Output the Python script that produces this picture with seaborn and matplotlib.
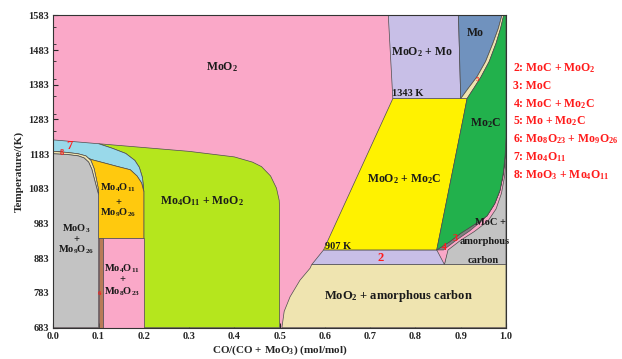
import matplotlib
matplotlib.use("Agg")
import matplotlib.pyplot as plt
from matplotlib.ticker import MultipleLocator
import seaborn as sns

# ---- phase-field boundaries: (x = CO/(CO+MoO3), T in K) ----
# MoO2 upper boundary across the Mo4O11 fields
top_line_x = [0.0, 0.1, 0.2, 0.3, 0.4, 0.44, 0.46, 0.48, 0.493, 0.499, 0.5]
top_line_t = [1224, 1213, 1202, 1191, 1175, 1160, 1147, 1120, 1085, 1050, 1020]

# Mo4O11 (7) / Mo4O11+MoO2 boundary
blue_green_x = [0.1, 0.13, 0.16, 0.18, 0.19, 0.197, 0.2]
blue_green_t = [1213, 1200, 1185, 1165, 1145, 1115, 1075]

# Mo4O11 (7) lower boundary
blue_bottom_x = [0.0, 0.03, 0.06, 0.088, 0.12, 0.14, 0.17, 0.185, 0.195, 0.2]
blue_bottom_t = [1191, 1187, 1178, 1166, 1155, 1148, 1138, 1120, 1100, 1075]

# MoO3+Mo4O11 (8) outer edge and MoO3+Mo9O26 upper edge
band8_x = [0.0, 0.03, 0.055, 0.072, 0.083, 0.09, 0.095, 0.099, 0.1]
band8_t = [1191, 1188, 1184, 1178, 1165, 1142, 1112, 1086, 1072]
grey_top_x = [0.0, 0.03, 0.055, 0.068, 0.078, 0.085, 0.09, 0.095, 0.1]
grey_top_t = [1184, 1182, 1178, 1172, 1160, 1140, 1115, 1090, 1066]

# Mo9O26 / Mo8O23 split
t_mo9o26 = 940
x_mo8o23_left, x_mo8o23_right = 0.1, 0.11

# MoO2 + amorphous carbon, upper-left curve
carbon_left_x = [0.505, 0.51, 0.523, 0.545, 0.567, 0.571]
carbon_left_t = [683, 730, 772, 820, 854, 865]
t_carbon_top = 865

# MoC + MoO2 (2) band
t_band2_top = 907
band2_x = [0.571, 0.597, 0.87, 0.864]

# MoO2 + Mo2C
t_1343 = 1343
moo2_mo_left_x = [0.74, 0.75]
yellow_right_x = [0.914, 0.905, 0.847]
yellow_right_t = [1343, 1283, 907]

# Mo / MoO2+Mo
mo_left_x = [0.895, 0.9]
mo_right_x = [0.991, 0.983, 0.971, 0.955, 0.936, 0.918, 0.9]
mo_right_t = [1583, 1545, 1502, 1450, 1406, 1375, 1343]

# Mo + Mo2C (5) outer edge
band5_x = [0.995, 0.988, 0.978, 0.963, 0.945, 0.93, 0.914]
band5_t = [1583, 1545, 1502, 1450, 1406, 1375, 1343]

# Mo2C lower-right boundary and the MoC bands (4, 3)
mo2c_x = [0.847, 0.875, 0.90, 0.93, 0.958, 0.975, 0.987, 0.994, 0.998, 1.0]
mo2c_t = [907, 930, 955, 980, 1005, 1040, 1080, 1130, 1180, 1230]
band4_x = [0.862, 0.89, 0.92, 0.95, 0.97, 0.984, 0.993, 0.998, 1.0]
band4_t = [907, 935, 962, 995, 1030, 1070, 1115, 1160, 1200]
band3_x = [0.864, 0.872, 0.90, 0.93, 0.96, 0.978, 0.99, 0.997, 1.0]
band3_t = [865, 907, 935, 960, 990, 1025, 1070, 1120, 1165]

T_MIN, T_MAX = 683, 1583
y_ticks = [683, 783, 883, 983, 1083, 1183, 1283, 1383, 1483, 1583]
x_ticks = [0.0, 0.1, 0.2, 0.3, 0.4, 0.5, 0.6, 0.7, 0.8, 0.9, 1.0]

legend_lines = [
    "2: MoC + MoO$_\\mathbf{2}$",
    "3: MoC",
    "4: MoC + Mo$_\\mathbf{2}$C",
    "5: Mo + Mo$_\\mathbf{2}$C",
    "6: Mo$_\\mathbf{8}$O$_\\mathbf{23}$ + Mo$_\\mathbf{9}$O$_\\mathbf{26}$",
    "7: Mo$_\\mathbf{4}$O$_\\mathbf{11}$",
    "8: MoO$_\\mathbf{3}$ + Mo$_\\mathbf{4}$O$_\\mathbf{11}$",
]

C = {
    "pink": "#FAA8C8", "lime": "#B5E61D", "sky": "#99D9EA", "orange": "#FFC90E",
    "grey": "#C3C3C3", "brown": "#B97A57", "yellow": "#FFF200", "lav": "#C8BFE7",
    "mo": "#7092BE", "green": "#22B14C", "tan": "#EFE4B0", "dark": "#7F7F7F",
}

sns.set_theme(style="ticks")
plt.rcParams["font.family"] = ["Liberation Serif", "DejaVu Serif"]
plt.rcParams["mathtext.fontset"] = "custom"
plt.rcParams["mathtext.rm"] = "Liberation Serif:bold"
plt.rcParams["mathtext.bf"] = "Liberation Serif:bold"
plt.rcParams["mathtext.default"] = "bf"

fig = plt.figure(figsize=(6.22, 3.59), dpi=100)
ax = fig.add_axes([0.0857, 0.0872, 0.7278, 0.8702])
ax.set_facecolor(C["pink"])

EDGE = dict(edgecolor="#4d4d4d", linewidth=0.5)


def poly(xs, ts, color, z):
    ax.fill(xs, ts, facecolor=color, zorder=z, **EDGE)


# Mo4O11 + MoO2
gx = [x for x in top_line_x if x >= 0.1] + [0.5, 0.2] + blue_green_x[::-1]
gt = [t for x, t in zip(top_line_x, top_line_t) if x >= 0.1] + [T_MIN, T_MIN] + blue_green_t[::-1]
poly(gx, gt, C["lime"], 2)

# Mo4O11 (7)
bx = [0.0, 0.1] + blue_green_x[1:] + blue_bottom_x[::-1]
bt = [1224, 1213] + blue_green_t[1:] + blue_bottom_t[::-1]
poly(bx, bt, C["sky"], 2)

# Mo4O11 + Mo9O26
ox = blue_bottom_x + [0.2, 0.1] + band8_x[::-1]
ot = blue_bottom_t + [t_mo9o26, t_mo9o26] + band8_t[::-1]
poly(ox, ot, C["orange"], 2)

# MoO3 + Mo4O11 (8)
poly(band8_x + grey_top_x[::-1], band8_t + grey_top_t[::-1], C["tan"], 3)

# MoO3 + Mo9O26
poly([0.0, 0.1] + grey_top_x[::-1], [T_MIN, T_MIN] + grey_top_t[::-1], C["grey"], 4)

# Mo8O23 + Mo9O26 (6) and Mo4O11 + Mo8O23
poly([x_mo8o23_left, x_mo8o23_right, x_mo8o23_right, x_mo8o23_left],
     [T_MIN, T_MIN, t_mo9o26, t_mo9o26], C["brown"], 4)
poly([x_mo8o23_right, 0.2, 0.2, x_mo8o23_right],
     [T_MIN, T_MIN, t_mo9o26, t_mo9o26], C["pink"], 4)

# MoO2 + amorphous carbon
poly(carbon_left_x + [1.0, 1.0], carbon_left_t + [t_carbon_top, T_MIN], C["tan"], 2)

# MoC + MoO2 (2)
poly(band2_x, [t_carbon_top, t_band2_top, t_band2_top, t_carbon_top], C["lav"], 2)

# MoC + amorphous carbon
poly([band3_x[0], 1.0] + mo2c_x[::-1] + [band2_x[2]],
     [t_carbon_top, t_carbon_top] + mo2c_t[::-1] + [t_band2_top], C["grey"], 2)
# MoC (3)
poly(band3_x + mo2c_x[::-1], band3_t + mo2c_t[::-1], C["pink"], 3)
# MoC + Mo2C (4)
poly(band4_x + mo2c_x[::-1], band4_t + mo2c_t[::-1], C["dark"], 4)

# MoO2 + Mo2C
poly([0.597, moo2_mo_left_x[1]] + yellow_right_x,
     [t_band2_top, t_1343] + yellow_right_t, C["yellow"], 2)

# Mo2C
mx = band5_x + yellow_right_x[1:] + mo2c_x[1:] + [1.0]
mt = band5_t + yellow_right_t[1:] + mo2c_t[1:] + [T_MAX]
poly(mx, mt, C["green"], 5)

# MoO2 + Mo
poly(moo2_mo_left_x + mo_left_x[::-1], [T_MAX, t_1343, t_1343, T_MAX], C["lav"], 2)

# Mo
poly([mo_left_x[0]] + mo_right_x, [T_MAX] + mo_right_t, C["mo"], 2)

# Mo + Mo2C (5)
poly(mo_right_x + band5_x[::-1], mo_right_t + band5_t[::-1], C["tan"], 3)

# ---- labels ----
lab = dict(fontsize=8.5, fontweight="bold", ha="center", va="center", zorder=10, color="#1a1a1a")
red = dict(fontsize=9, fontweight="bold", ha="center", va="center", zorder=10, color="#ff1a1a")
small = {**lab, "fontsize": 7.5}

ax.text(0.372, 1435, "MoO$_2$", **lab)
ax.text(0.814, 1478, "MoO$_2$ + Mo", **lab)
ax.text(0.932, 1531, "Mo", **lab)
ax.text(0.748, 1357, "1343 K", **{**small, "ha": "left"})
ax.text(0.954, 1272, "Mo$_2$C", **lab)
ax.text(0.774, 1110, "MoO$_2$ + Mo$_2$C", **lab)
ax.text(0.6, 917, "907 K", **{**small, "ha": "left"})
ax.text(0.763, 773, "MoO$_2$ + amorphous carbon", **{**lab, "fontsize": 9})
ax.text(0.965, 987, "MoC +", **small)
ax.text(0.953, 931, "amorphous", **small)
ax.text(0.949, 878, "carbon", **small)
ax.text(0.328, 1048, "Mo$_4$O$_{11}$ + MoO$_2$", **lab)
for t, s in zip([1085, 1045, 1013], ["Mo$_4$O$_{11}$", "+", "Mo$_9$O$_{26}$"]):
    ax.text(0.143, t, s, **small)
for t, s in zip([969, 938, 907], ["MoO$_3$", "+", "Mo$_9$O$_{26}$"]):
    ax.text(0.05, t, s, **small)
for t, s in zip([854, 821, 787], ["Mo$_4$O$_{11}$", "+", "Mo$_8$O$_{23}$"]):
    ax.text(0.152, t, s, **small)

ax.text(0.722, 884, "2", **red)
ax.text(0.887, 940, "3", **{**red, "fontsize": 7.5})
ax.text(0.864, 915, "4", **{**red, "fontsize": 7})
ax.text(0.937, 1397, "5", **{**red, "fontsize": 5})
ax.text(0.103, 782, "6", **{**red, "fontsize": 5})
ax.text(0.036, 1206, "7", **red)
ax.text(0.018, 1185, "8", **{**red, "fontsize": 6})

for i, s in enumerate(legend_lines):
    fig.text(513 / 622, 1 - (68 + i * 17.8) / 359, s, fontsize=8.5, fontweight="bold",
             color="#ff1a1a", ha="left", va="center")

ax.set_xlim(0, 1)
ax.set_ylim(T_MIN, T_MAX)
ax.set_xticks(x_ticks)
ax.set_xticklabels([f"{v:.1f}" for v in x_ticks])
ax.set_yticks(y_ticks)
ax.yaxis.set_minor_locator(MultipleLocator(50))
ax.tick_params(axis="both", which="major", direction="in", length=3.5, width=0.8,
               labelsize=7.5, pad=3)
ax.tick_params(axis="y", which="minor", direction="in", length=2, width=0.6)
for lbl in ax.get_xticklabels() + ax.get_yticklabels():
    lbl.set_fontweight("bold")
for sp in ax.spines.values():
    sp.set_linewidth(0.8)
    sp.set_color("#333333")
    sp.set_zorder(20)

ax.set_xlabel("CO/(CO + MoO$_3$) (mol/mol)", fontsize=8, fontweight="bold", labelpad=2)
ax.set_ylabel("Temperature/(K)", fontsize=8, fontweight="bold", labelpad=3)

fig.savefig("out.png", dpi=100)
